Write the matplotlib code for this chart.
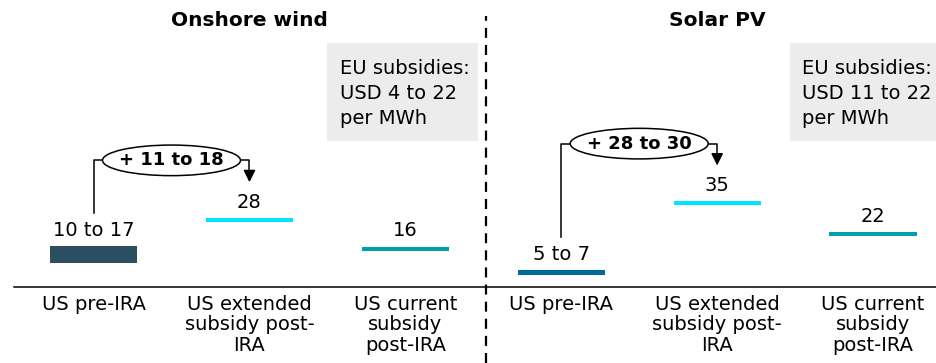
import matplotlib
matplotlib.use('Agg')
import matplotlib.pyplot as plt
from matplotlib.patches import Ellipse, Rectangle

# subsidy levels, USD per MWh (low / high of each range)
categories = ['US pre-IRA', 'US extended\nsubsidy post-\nIRA', 'US current\nsubsidy\npost-IRA']
panels = ['Onshore wind', 'Solar PV']
wind_low = [10, 28, 16]
wind_high = [17, 28, 16]
solar_low = [5, 35, 22]
solar_high = [7, 35, 22]
eu_range = [(4, 22), (11, 22)]

colors = ['#2c4e63', '#00e5ff', '#009fb0']
pre_colors = ['#2c4e63', '#006996']

plt.rcParams['font.family'] = ['DejaVu Sans']
fig = plt.figure(figsize=(9.37, 3.63), dpi=100)
ax = fig.add_axes([0, 0, 1, 1])
ax.set_xlim(-0.6, 5.41)
ax.set_ylim(-31.8, 120.1)
ax.axis('off')

bar_w = 0.56
min_h = 1.7

for p, (lows, highs) in enumerate([(wind_low, wind_high), (solar_low, solar_high)]):
    xs = [p * 3 + i for i in range(3)]
    for i, x in enumerate(xs):
        lo, hi = lows[i], highs[i]
        c = pre_colors[p] if i == 0 else colors[i]
        if hi - lo < min_h:
            mid = (lo + hi) / 2
            ax.bar(x, min_h, bottom=mid - min_h / 2, width=bar_w, color=c)
        else:
            ax.bar(x, hi - lo, bottom=lo, width=bar_w, color=c)
        txt = f'{lo}' if lo == hi else f'{lo} to {hi}'
        ax.annotate(txt, (x, max(hi, lo + min_h / 2)), xytext=(0, 4.5), textcoords='offset points',
                    ha='center', va='bottom', fontsize=14)
        ax.text(x, -3.3, categories[i], ha='center', va='top', fontsize=14, linespacing=1.1)

    # uplift bracket from pre-IRA to extended subsidy
    up_lo = highs[1] - highs[0]
    up_hi = lows[1] - lows[0]
    ytop = highs[1] + 25
    xa, xb = xs[0], xs[1]
    xm = (xa + xb) / 2
    ew = 0.885
    ax.plot([xa, xa, xm - ew / 2], [highs[0] + 14, ytop, ytop], color='black', lw=1.1)
    ax.plot([xm + ew / 2, xb, xb], [ytop, ytop, highs[1] + 20], color='black', lw=1.1)
    ax.annotate('', xy=(xb, highs[1] + 14.7), xytext=(xb, highs[1] + 21),
                arrowprops=dict(arrowstyle='-|>', color='black', lw=1.1, mutation_scale=18))
    ax.add_patch(Ellipse((xm, ytop), ew, 12.8, facecolor='white', edgecolor='black', lw=1.1, zorder=3))
    ax.text(xm, ytop, f'+ {up_lo} to {up_hi}', ha='center', va='center',
            fontsize=13, fontweight='bold', zorder=4)

    # EU subsidy box
    bx = xs[2] - 0.5 - (0.035 if p == 1 else 0)
    ax.add_patch(Rectangle((bx, 61.1), 0.965, 40.9, facecolor='#ececec', edgecolor='none', zorder=0))
    lo_eu, hi_eu = eu_range[p]
    ax.text(bx + 0.08, 81, f'EU subsidies:\nUSD {lo_eu} to {hi_eu}\nper MWh', ha='left', va='center',
            fontsize=14, linespacing=1.4)

    ax.text(xs[1], 111.7, panels[p], ha='center', va='center', fontsize=14.5, fontweight='heavy')

# baseline and panel divider
ax.axhline(0, xmin=0.015, xmax=1, color='black', lw=1.1)
ax.plot([2.52, 2.52], [-31.8, 113.5], color='black', lw=1.6, dashes=(4.5, 3.2))

plt.savefig('out.png', dpi=100)
plt.close()
